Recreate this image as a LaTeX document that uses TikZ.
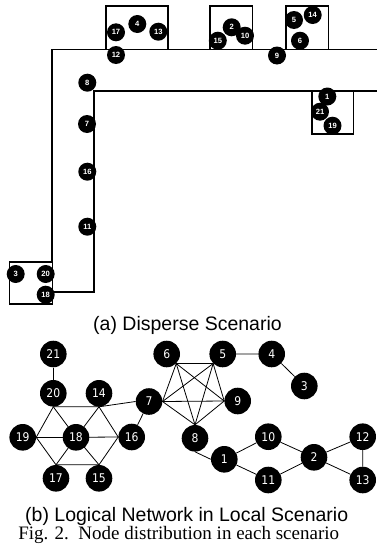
\documentclass[tikz,border=0pt]{standalone}
\usepackage{fontspec}
\setmainfont{Liberation Serif}
\setsansfont{Liberation Sans}
\newfontfamily\gfont{DejaVu Sans}[FakeStretch=0.9]
\usetikzlibrary{backgrounds}
\begin{document}
\begin{tikzpicture}[x=1pt,y=-1pt,
  wall/.style={line width=1.6pt,line cap=rect},
  room/.style={draw,line width=1.6pt},
  dev/.style={circle,fill=black,inner sep=0pt,minimum size=18pt,
    text=white,font=\sffamily\bfseries\fontsize{7.6}{7.6}\selectfont},
  vert/.style={circle,fill=black,inner sep=0pt,minimum size=26.6pt,
    text=white,font=\gfont\fontsize{12}{12}\selectfont},
  link/.style={line width=0.8pt},
  captext/.style={anchor=base,inner sep=0pt,font=\sffamily\fontsize{19.5}{19.5}\selectfont}]
\useasboundingbox (0,0) rectangle (376,549);

% ---------- floor plan ----------
\draw[wall] (376,49.3) -- (51.7,49.3) -- (51.7,261.7);
\draw[wall] (376,90.7) -- (94,90.7) -- (94,291.7) -- (52.3,291.7);
\draw[room] (106,6) rectangle (167.7,49.3);
\draw[room] (210,6) rectangle (252.3,49.3);
\draw[room] (286,6) rectangle (328.3,49.3);
\draw[room] (311.7,90.7) rectangle (353.3,134);
\draw[room] (9.3,261.7) rectangle (52.3,304);

\node[dev] (p17) at (116,32.3) {17};
\node[dev] (p4)  at (137.3,24) {4};
\node[dev] (p13) at (158.3,31.7) {13};
\node[dev] (p12) at (116,55) {12};
\node[dev] (p2)  at (231.7,27.3) {2};
\node[dev] (p15) at (217.8,40.7) {15};
\node[dev] (p10) at (245,35.7) {10};
\node[dev] (p5)  at (294,20) {5};
\node[dev] (p14) at (312.7,15) {14};
\node[dev] (p6)  at (300,40.7) {6};
\node[dev] (p9)  at (277,55.5) {9};
\node[dev] (p8)  at (87.3,82.7) {8};
\node[dev] (p1)  at (327.3,96.5) {1};
\node[dev] (p21) at (320,111.7) {21};
\node[dev] (p19) at (332.5,125.7) {19};
\node[dev] (p7)  at (87,124) {7};
\node[dev] (p16) at (87.3,171.7) {16};
\node[dev] (p11) at (87.3,226.7) {11};
\node[dev] (p3)  at (15.7,274) {3};
\node[dev] (p20) at (45.7,274) {20};
\node[dev] (p18) at (45.7,294.7) {18};

\node[captext] (capa) at (187.5,330.7) {(a) Disperse Scenario};

% ---------- logical network ----------
\node[vert] (n21) at (53.3,354) {21};
\node[vert] (n20) at (53.3,393.3) {20};
\node[vert] (n14) at (99,393.3) {14};
\node[vert] (n19) at (22.7,437.3) {19};
\node[vert] (n18) at (76,437.3) {18};
\node[vert] (n16) at (131.7,437) {16};
\node[vert] (n17) at (56,478.3) {17};
\node[vert] (n15) at (99,478.3) {15};
\node[vert] (n7)  at (149,401.5) {7};
\node[vert] (n6)  at (166.7,354) {6};
\node[vert] (n5)  at (222.7,354) {5};
\node[vert] (n9)  at (237.7,401) {9};
\node[vert] (n8)  at (195,438.3) {8};
\node[vert] (n4)  at (271.7,354) {4};
\node[vert] (n3)  at (304.3,386) {3};
\node[vert] (n10) at (268.3,436.7) {10};
\node[vert] (n1)  at (224.3,459.3) {1};
\node[vert] (n11) at (268.3,480) {11};
\node[vert] (n2)  at (314,457.3) {2};
\node[vert] (n12) at (362.7,436.7) {12};
\node[vert] (n13) at (362.7,480) {13};

\begin{pgfonlayer}{background}
  \draw[link] (n21) -- (n20);
  % hexagon around 18
  \draw[link] (n20.south) -- (n14.south) -- (n16.west) -- (n15.north)
              -- (n17.north) -- (n19.east) -- cycle;
  \foreach \v in {n20.south,n14.south,n16.west,n15.north,n17.north,n19.east}
    \draw[link] (n18.center) -- (\v);
  \draw[link] (n14.south) -- (n7.west);
  \draw[link] (n16) -- (n7);
  % clique 5-6-7-8-9
  \draw[link] (n6.-45) -- (n5.-135) -- (n9.west) -- (n8.north) -- (n7.east) -- cycle;
  \draw[link] (n6.-45) -- (n9.west);
  \draw[link] (n6.-45) -- (n8.north);
  \draw[link] (n5.-135) -- (n7.east);
  \draw[link] (n5.-135) -- (n8.north);
  \draw[link] (n7.east) -- (n9.west);
  \draw[link] (n5) -- (n4) -- (n3);
  \draw[link] (n8.south) -- (n1.west);
  \draw[link] (n1) -- (n10) -- (n2) -- (n11) -- (n1);
  \draw[link] (n2) -- (n12) -- (n13) -- (n2);
\end{pgfonlayer}

\node[captext] (capb) at (186.7,521.7) {(b) Logical Network in Local Scenario};
\node[anchor=base,inner sep=0pt,font=\rmfamily\fontsize{19}{19}\selectfont]
  (fig) at (178.7,539.3) {Fig. 2.\ \ Node distribution in each scenario};
\end{tikzpicture}
\end{document}
